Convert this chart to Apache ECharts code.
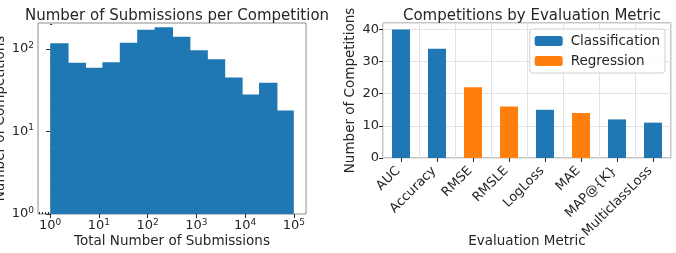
<!DOCTYPE html>
<html>
<head>
<meta charset="utf-8">
<script src="https://cdn.jsdelivr.net/npm/echarts@6/dist/echarts.min.js"></script>
<style>
  html, body { margin: 0; padding: 0; background: #fff; }
  #chart { width: 676px; height: 253px; }
</style>
</head>
<body>
<div id="chart"></div>
<script>
// left panel: histogram of submissions (log bins, log counts)
const binEdgesExp = [0, 5/14, 10/14, 15/14, 20/14, 25/14, 30/14, 35/14, 40/14, 45/14, 50/14, 55/14, 60/14, 65/14, 70/14]
const binCounts = [117, 68, 59, 69, 119, 171, 183, 140, 96, 75, 45, 28, 39, 18]
const xMajorExp = [0, 1, 2, 3, 4, 5]
const yMajorExp = [0, 1, 2]

// right panel: competitions per metric
const metrics = ['AUC', 'Accuracy', 'RMSE', 'RMSLE', 'LogLoss', 'MAE', 'MAP@{K}', 'MulticlassLoss']
const metricCounts = [40, 34, 22, 16, 15, 14, 12, 11]
const metricTypes = ['Classification', 'Classification', 'Regression', 'Regression', 'Classification', 'Regression', 'Classification', 'Classification']

const blue = '#1f77b4'
const orange = '#ff7f0e'
const textColor = '#262626'
const spine = '#8c8c8c'
const font = 'DejaVu Sans'

// minor ticks of a log axis, in exponent units
const minorTicks = (lo, hi) => {
  const out = []
  for (let n = Math.floor(lo); n <= Math.ceil(hi); n++) {
    for (let k = 2; k <= 9; k++) {
      const v = n + Math.log10(k)
      if (v > lo && v < hi) out.push(v)
    }
  }
  return out
}

const xMin = -0.25, xMax = 5.25
const yMin = 0, yMax = Math.log10(206)

const histData = binCounts.map((c, i) => [binEdgesExp[i], binEdgesExp[i + 1], Math.log10(c)])

const supLabel = v => '10{s|' + Math.round(v) + '}'
const richSup = { s: { fontSize: 9, fontFamily: font, color: textColor, verticalAlign: 'bottom', padding: [0, 0, 7, 0] } }

const chart = echarts.init(document.getElementById('chart'), null, { renderer: 'canvas' })

const option = {
  animation: false,
  textStyle: { fontFamily: font, color: textColor },
  title: [
    { text: 'Number of Submissions per Competition', left: 172, top: 4, textAlign: 'center',
      textStyle: { fontSize: 15, fontWeight: 'normal', color: textColor, fontFamily: font } },
    { text: 'Competitions by Evaluation Metric', left: 527, top: 4, textAlign: 'center',
      textStyle: { fontSize: 15, fontWeight: 'normal', color: textColor, fontFamily: font } }
  ],
  legend: {
    data: ['Classification', 'Regression'],
    orient: 'vertical',
    right: 11,
    top: 29,
    padding: [5, 5, 5, 5],
    itemWidth: 28,
    itemHeight: 10,
    itemGap: 6,
    borderColor: '#d0d0d0',
    borderWidth: 1,
    borderRadius: 3,
    backgroundColor: 'rgba(255,255,255,0.8)',
    textStyle: { fontSize: 13.5, fontFamily: font, color: textColor, padding: [0, 0, 0, 3] }
  },
  grid: [
    { left: 38, top: 23, width: 268, height: 191, show: true, borderColor: spine, borderWidth: 1, outerBoundsMode: 'none', containLabel: false },
    { left: 383, top: 23, width: 288, height: 135, show: true, borderColor: spine, borderWidth: 1, outerBoundsMode: 'none', containLabel: false }
  ],
  xAxis: [
    {
      gridIndex: 0, type: 'value', min: xMin, max: xMax,
      name: 'Total Number of Submissions', nameLocation: 'middle', nameGap: 20, nameMoveOverlap: false,
      nameTextStyle: { fontSize: 13.5, color: textColor, fontFamily: font },
      axisLine: { show: false },
      axisTick: { show: true, length: 4, customValues: xMajorExp, lineStyle: { color: textColor } },
      axisLabel: { customValues: xMajorExp, formatter: supLabel, rich: richSup, fontSize: 13, color: textColor, margin: 4 },
      splitLine: { show: false }
    },
    {
      gridIndex: 0, type: 'value', min: xMin, max: xMax,
      axisLine: { show: false },
      axisTick: { show: true, length: 2, customValues: minorTicks(xMin, xMax), lineStyle: { color: textColor } },
      axisLabel: { show: false },
      splitLine: { show: false }
    },
    {
      gridIndex: 1, type: 'category', data: metrics,
      name: 'Evaluation Metric', nameLocation: 'middle', nameGap: 76, nameMoveOverlap: false,
      nameTextStyle: { fontSize: 13.5, color: textColor, fontFamily: font },
      axisLine: { show: false },
      axisTick: { show: true, length: 4, alignWithLabel: true, lineStyle: { color: textColor } },
      axisLabel: { rotate: 45, fontSize: 13, color: textColor, margin: 8, interval: 0, padding: [0, 4, 0, 0] },
      splitLine: { show: true, interval: 0, lineStyle: { color: '#e3e3e3' } }
    }
  ],
  yAxis: [
    {
      gridIndex: 0, type: 'value', min: yMin, max: yMax,
      name: 'Number of Competitions', nameLocation: 'middle', nameGap: 31, nameMoveOverlap: false,
      nameTextStyle: { fontSize: 13.5, color: textColor, fontFamily: font },
      axisLine: { show: false },
      axisTick: { show: true, length: 4, customValues: yMajorExp, lineStyle: { color: textColor } },
      axisLabel: { customValues: yMajorExp, formatter: supLabel, rich: richSup, fontSize: 13, color: textColor, margin: 4 },
      splitLine: { show: false }
    },
    {
      gridIndex: 0, type: 'value', min: yMin, max: yMax,
      axisLine: { show: false },
      axisTick: { show: true, length: 2, customValues: minorTicks(yMin, yMax), lineStyle: { color: textColor } },
      axisLabel: { show: false },
      splitLine: { show: false }
    },
    {
      gridIndex: 1, type: 'value', min: 0, max: 42, interval: 10,
      name: 'Number of Competitions', nameLocation: 'middle', nameGap: 26, nameMoveOverlap: false,
      nameTextStyle: { fontSize: 13.5, color: textColor, fontFamily: font },
      axisLine: { show: false },
      axisTick: { show: true, length: 4, lineStyle: { color: textColor } },
      axisLabel: { fontSize: 13, color: textColor, margin: 4 },
      splitLine: { show: true, lineStyle: { color: '#e3e3e3' } }
    }
  ],
  series: [
    {
      type: 'custom',
      xAxisIndex: 0, yAxisIndex: 0,
      data: histData,
      renderItem: (params, api) => {
        const p0 = api.coord([api.value(0), yMin])
        const p1 = api.coord([api.value(1), api.value(2)])
        // overlap neighbours by one pixel so no seam shows between bins
        const last = params.dataIndex === binCounts.length - 1
        return {
          type: 'rect',
          shape: { x: p0[0], y: p1[1], width: p1[0] - p0[0] + (last ? 0 : 1), height: p0[1] - p1[1] },
          style: { fill: blue }
        }
      },
      silent: true
    },
    {
      name: 'Classification', type: 'bar', xAxisIndex: 2, yAxisIndex: 2,
      barWidth: '50%', barGap: '-100%', itemStyle: { color: blue },
      data: metricCounts.map((v, i) => metricTypes[i] === 'Classification' ? v : null)
    },
    {
      name: 'Regression', type: 'bar', xAxisIndex: 2, yAxisIndex: 2,
      barWidth: '50%', barGap: '-100%', itemStyle: { color: orange },
      data: metricCounts.map((v, i) => metricTypes[i] === 'Regression' ? v : null)
    }
  ]
}

chart.setOption(option)
</script>
</body>
</html>
